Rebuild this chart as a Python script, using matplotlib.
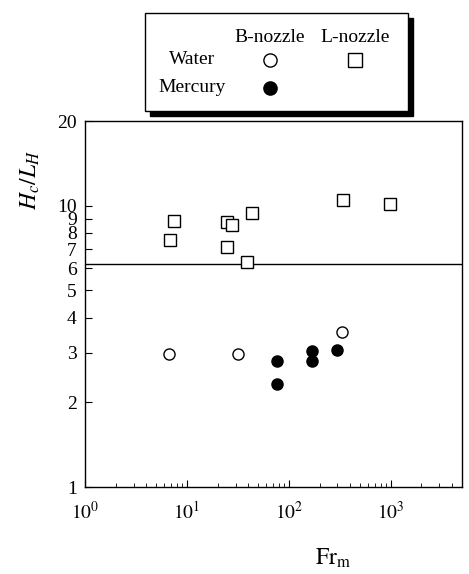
import matplotlib.pyplot as plt
from matplotlib.patches import Rectangle
from matplotlib.ticker import FixedLocator, NullFormatter, LogLocator

plt.rcParams['font.family'] = ['Liberation Serif', 'DejaVu Serif']
plt.rcParams['mathtext.fontset'] = 'stix'

# L-nozzle, water
l_water_x = [6.8, 7.5, 24.7, 27.6, 24.9, 43.4, 38.7, 338, 985]
l_water_y = [7.57, 8.82, 8.72, 8.51, 7.14, 9.39, 6.30, 10.5, 10.1]
# B-nozzle, water
b_water_x = [6.6, 31.8, 333]
b_water_y = [2.97, 2.97, 3.57]
# B-nozzle, mercury
b_merc_x = [75.7, 75.7, 169, 169, 300]
b_merc_y = [2.80, 2.33, 3.05, 2.81, 3.07]

crit_line = 6.22
y_ticks = [1, 2, 3, 4, 5, 6, 7, 8, 9, 10, 20]

fig = plt.figure(figsize=(4.69, 5.74), dpi=100)
ax = fig.add_axes([85 / 469, 1 - 487 / 574, 377 / 469, 366 / 574])

ax.set_xscale('log')
ax.set_yscale('log')
ax.set_xlim(1, 5000)
ax.set_ylim(1, 20)

ax.axhline(crit_line, color='black', lw=1.0)

ms = 8.5
ax.plot(l_water_x, l_water_y, 's', mfc='white', mec='black', mew=1.0, ms=ms, ls='none')
ax.plot(b_water_x, b_water_y, 'o', mfc='white', mec='black', mew=1.0, ms=ms - 0.5, ls='none')
ax.plot(b_merc_x, b_merc_y, 'o', mfc='black', mec='black', ms=ms - 0.5, ls='none')

ax.yaxis.set_major_locator(FixedLocator(y_ticks))
ax.set_yticklabels([str(v) for v in y_ticks])
ax.yaxis.set_minor_locator(FixedLocator([]))
ax.xaxis.set_minor_locator(LogLocator(base=10, subs=range(2, 10), numticks=20))
ax.xaxis.set_minor_formatter(NullFormatter())
ax.set_xticks([1, 10, 100, 1000])
ax.set_xticklabels([r'$10^0$', r'$10^1$', r'$10^2$', r'$10^3$'])

ax.tick_params(which='both', direction='in', labelsize=14, top=False, right=False)
ax.tick_params(which='major', length=5)
ax.tick_params(which='minor', length=3)
ax.tick_params(axis='x', pad=10)
ax.tick_params(axis='y', pad=6)
for s in ax.spines.values():
    s.set_linewidth(1.0)

fig.text(30 / 469, 1 - 180 / 574, r'$H_c/L_H$', rotation=90, fontsize=17,
         ha='center', va='center')
fig.text(333 / 469, 1 - 558 / 574, r'$\mathrm{Fr_m}$', fontsize=17,
         ha='center', va='center')

# legend box with shadow
bx0, by0, bx1, by1 = 145, 13, 408, 111
sh = 5
fig.patches.append(Rectangle(((bx0 + sh) / 469, 1 - (by1 + sh) / 574), (bx1 - bx0) / 469,
                             (by1 - by0) / 574, transform=fig.transFigure,
                             facecolor='black', edgecolor='black', zorder=1))
fig.patches.append(Rectangle((bx0 / 469, 1 - by1 / 574), (bx1 - bx0) / 469,
                             (by1 - by0) / 574, transform=fig.transFigure,
                             facecolor='white', edgecolor='black', lw=1.0, zorder=2))

fs = 14
fig.text(270 / 469, 1 - 37 / 574, 'B-nozzle', fontsize=fs, ha='center', va='center', zorder=3)
fig.text(355 / 469, 1 - 37 / 574, 'L-nozzle', fontsize=fs, ha='center', va='center', zorder=3)
fig.text(192 / 469, 1 - 60 / 574, 'Water', fontsize=fs, ha='center', va='center', zorder=3)
fig.text(192 / 469, 1 - 87 / 574, 'Mercury', fontsize=fs, ha='center', va='center', zorder=3)

lax = fig.add_axes([0, 0, 1, 1], facecolor='none', zorder=5)
lax.set_xlim(0, 469)
lax.set_ylim(574, 0)
lax.axis('off')
lax.plot([270], [60], 'o', mfc='white', mec='black', mew=1.0, ms=ms + 1)
lax.plot([355], [60], 's', mfc='white', mec='black', mew=1.0, ms=ms + 2)
lax.plot([270], [88], 'o', mfc='black', mec='black', ms=ms + 1)

fig.savefig('out.png', dpi=100)
